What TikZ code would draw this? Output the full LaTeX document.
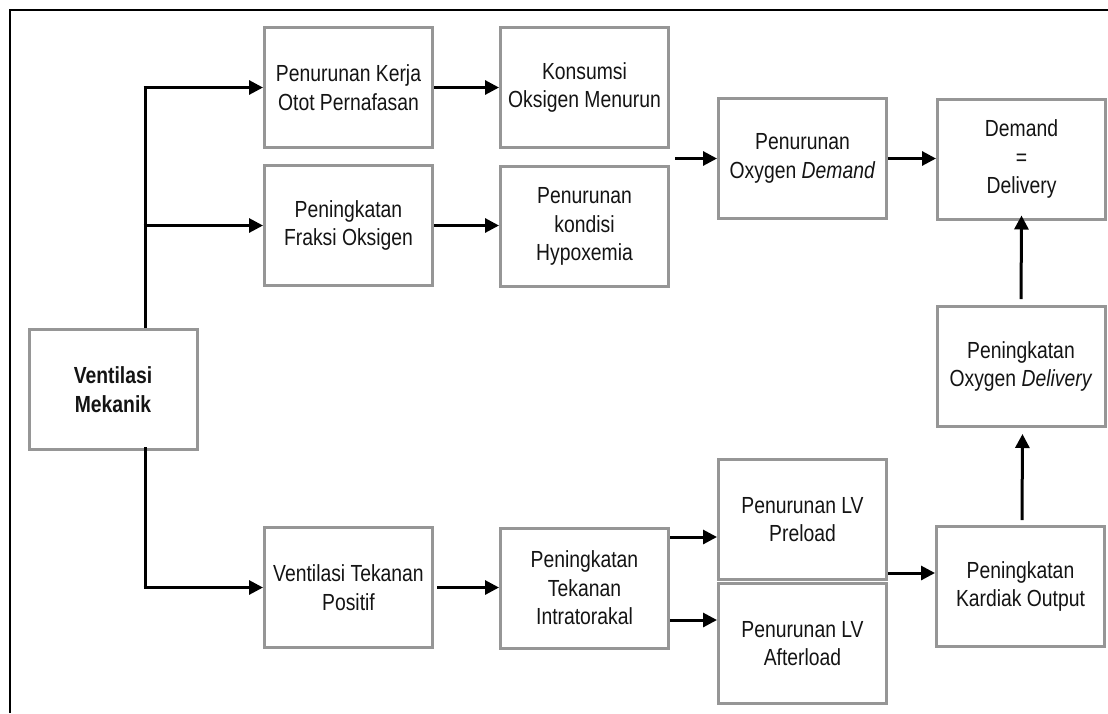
\documentclass[tikz,border=0pt]{standalone}
\usepackage{fontspec}
\setmainfont{Liberation Sans}[FakeStretch=0.83]
\usetikzlibrary{arrows.meta,calc}
\definecolor{boxgray}{RGB}{150,150,150}
\definecolor{txt}{RGB}{20,20,20}
\begin{document}
\begin{tikzpicture}[x=1pt,y=1pt,
  box/.style={draw=boxgray, line width=3pt, fill=white, minimum width=168pt, minimum height=120pt,
    inner sep=2pt, align=center, text=txt, font=\fontsize{23.3}{28.5}\selectfont},
  arr/.style={line width=3pt, -{Triangle[length=14pt,width=14pt]}},
  ln/.style={line width=3pt}]
\useasboundingbox (0,0) rectangle (1108,-713);
\draw[line width=1.8pt] (10,-713) -- (10,-10) -- (1108,-10);

\node[box, font=\fontsize{23.3}{29}\selectfont\bfseries] (vm) at (113,-389.5) {Ventilasi\\Mekanik};
\node[box] (b1) at (348.5,-87.5) {Penurunan Kerja\\Otot Pernafasan};
\node[box] (b2) at (584.5,-87.5) {Konsumsi\\Oksigen Menurun};
\node[box] (b3) at (348.5,-225.5) {Peningkatan\\Fraksi Oksigen};
\node[box] (b4) at (584.5,-226.5) {Penurunan\\kondisi\\Hypoxemia};
\node[box] (b5) at (802.5,-158.5) {Penurunan\\Oxygen \textit{Demand}};
\node[box] (b6) at (1021.5,-159) {Demand\\=\\Delivery};
\node[box] (b7) at (1021,-366.5) {Peningkatan\\Oxygen \textit{Delivery}};
\node[box] (b8) at (348.5,-587.5) {Ventilasi Tekanan\\Positif};
\node[box] (b9) at (584.5,-588) {Peningkatan\\Tekanan\\Intratorakal};
\node[box] (b10) at (802.5,-519.5) {Penurunan LV\\Preload};
\node[box] (b11) at (802.5,-643.5) {Penurunan LV\\Afterload};
\node[box] (b12) at (1020.5,-586.5) {Peningkatan\\Kardiak Output};

\coordinate (trunk) at (145,0);
\coordinate (merge) at (675,-158.5);
\coordinate (pre) at (0,-537);
\coordinate (aft) at (0,-620);
\coordinate (ko) at (0,-573);

% trunk from Ventilasi Mekanik
\draw[ln] (vm.north -| trunk) -- (trunk |- b1.west);
\draw[arr] ([xshift=-1.5pt]trunk |- b1.west) -- (b1.west);
\draw[arr] ([xshift=-1.5pt]trunk |- b3.west) -- (b3.west);
\draw[ln] ([yshift=4pt]vm.south -| trunk) -- ([yshift=-1.5pt]trunk |- b8.west);
\draw[arr] ([xshift=-1.5pt]trunk |- b8.west) -- (b8.west);

\draw[arr] (b1.east) -- (b2.west);
\draw[arr] (b3.east) -- (b3.east -| b4.west);
\draw[arr] (merge) -- (b5.west);
\draw[arr] (b5.east) -- (b5.east -| b6.west);
\draw[arr] ([xshift=3pt]b8.east) -- (b8.east -| b9.west);
\draw[arr] (b9.east |- pre) -- (b10.west |- pre);
\draw[arr] (b9.east |- aft) -- (b11.west |- aft);
\draw[arr] (b10.east |- ko) -- (b12.west |- ko);
\draw[arr, shorten <=5pt, shorten >=6pt] ([xshift=1.5pt]b12.north) -- ([xshift=1.5pt]b7.south);
\draw[arr, shorten <=6pt] (b7.north) -- ([yshift=5pt]b6.south);
\end{tikzpicture}
\end{document}
